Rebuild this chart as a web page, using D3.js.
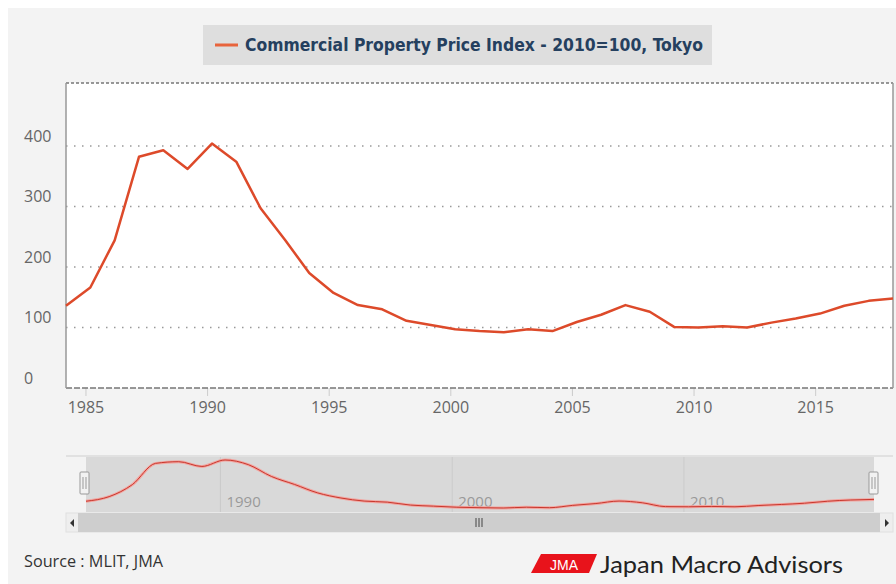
<!DOCTYPE html>
<html>
<head>
<meta charset="utf-8">
<script src="https://cdn.jsdelivr.net/npm/d3@7"></script>
<style>
body { margin: 0; background: #ffffff; }
</style>
</head>
<body>
<script>
// annual values, Commercial Property Price Index (2010=100), Tokyo
var years = [1984, 1985, 1986, 1987, 1988, 1989, 1990, 1991, 1992, 1993, 1994, 1995, 1996,
  1997, 1998, 1999, 2000, 2001, 2002, 2003, 2004, 2005, 2006, 2007, 2008, 2009, 2010,
  2011, 2012, 2013, 2014, 2015, 2016, 2017, 2018];
var values = [136, 166, 244, 382, 393, 362, 404, 374, 297, 245, 190, 157, 137,
  130, 111, 104, 97, 94, 92, 97, 94, 109, 121, 137, 126, 101, 100,
  102, 100, 108, 115, 123, 136, 144, 148];
var yTicks = [0, 100, 200, 300, 400];
var xTicks = [1985, 1990, 1995, 2000, 2005, 2010, 2015];
var navTicks = [1990, 2000, 2010];
var seriesName = "Commercial Property Price Index - 2010=100, Tokyo";

var width = 896, height = 584;
var plotLeft = 66, plotRight = 893, plotTop = 83, plotBottom = 388;
var lineColor = "#dd4a2a";

var data = years.map((yr, i) => ({ t: yr + 0.2, v: values[i] }));

var svg = d3.select("body").append("svg")
  .attr("width", width)
  .attr("height", height)
  .style("font-family", "'Open Sans', sans-serif");

// panel background
svg.append("rect").attr("x", 8).attr("y", 8).attr("width", width - 8).attr("height", height - 8)
  .attr("fill", "#f3f3f3");

// legend
svg.append("rect").attr("x", 203).attr("y", 25).attr("width", 509).attr("height", 40)
  .attr("fill", "#dedede");
svg.append("line").attr("x1", 215).attr("x2", 238).attr("y1", 45).attr("y2", 45)
  .attr("stroke", "#e8643c").attr("stroke-width", 3);
svg.append("text").attr("x", 245).attr("y", 51)
  .attr("textLength", 458).attr("lengthAdjust", "spacingAndGlyphs")
  .style("font-family", "'Liberation Sans Narrow', 'DejaVu Sans Condensed', sans-serif")
  .style("font-weight", "bold").style("font-size", "18px")
  .attr("fill", "#25405f")
  .text(seriesName);

// scales
var x = d3.scaleLinear()
  .domain([data[0].t, data[data.length - 1].t])
  .range([plotLeft, plotRight]);
var y = d3.scaleLinear()
  .domain([0, 504])
  .range([plotBottom, plotTop]);

// plot area
svg.append("rect").attr("x", plotLeft).attr("y", plotTop)
  .attr("width", plotRight - plotLeft).attr("height", plotBottom - plotTop)
  .attr("fill", "#ffffff");

// grid
svg.append("g").selectAll("line")
  .data(yTicks.filter(d => d > 0))
  .enter().append("line")
  .attr("x1", plotLeft).attr("x2", plotRight)
  .attr("y1", d => y(d)).attr("y2", d => y(d))
  .attr("stroke", "#999").attr("stroke-width", 1.5)
  .attr("stroke-dasharray", "1.5,6.5");

// y labels
svg.append("g").selectAll("text")
  .data(yTicks)
  .enter().append("text")
  .attr("x", 24)
  .attr("y", d => y(d) - 4)
  .attr("fill", "#666").style("font-size", "16px")
  .text(d => d);

// x axis
var xAxis = d3.axisBottom(x)
  .tickValues(xTicks)
  .tickFormat(d3.format("d"))
  .tickSize(8)
  .tickPadding(6);
var gx = svg.append("g")
  .attr("transform", "translate(0," + plotBottom + ")")
  .call(xAxis);
gx.select(".domain").remove();
gx.selectAll(".tick line").attr("stroke", "#ccc");
gx.selectAll(".tick text").attr("fill", "#666")
  .style("font-family", "'Open Sans', sans-serif").style("font-size", "16px");

// borders
svg.append("line").attr("x1", plotLeft).attr("x2", plotRight).attr("y1", plotTop).attr("y2", plotTop)
  .attr("stroke", "#777").attr("stroke-width", 1.5).attr("stroke-dasharray", "3,2");
svg.append("line").attr("x1", plotLeft).attr("x2", plotRight).attr("y1", plotBottom).attr("y2", plotBottom)
  .attr("stroke", "#777").attr("stroke-width", 1.5).attr("stroke-dasharray", "6,2");
svg.append("line").attr("x1", plotLeft).attr("x2", plotLeft).attr("y1", plotTop).attr("y2", plotBottom)
  .attr("stroke", "#999").attr("stroke-width", 1.5);
svg.append("line").attr("x1", plotRight).attr("x2", plotRight).attr("y1", plotTop).attr("y2", plotBottom)
  .attr("stroke", "#999").attr("stroke-width", 1.5);

// main line
var line = d3.line().x(d => x(d.t)).y(d => y(d.v));
svg.append("path").datum(data)
  .attr("d", line)
  .attr("fill", "none")
  .attr("stroke", lineColor)
  .attr("stroke-width", 2.5)
  .attr("stroke-linejoin", "round");

// navigator
var navTop = 457, navBottom = 512, navLeft = 86, navRight = 874;
var nx = d3.scaleLinear().domain(x.domain()).range([navLeft, navRight]);
var ny = d3.scaleLinear().domain(d3.extent(values)).range([508, 460]);

svg.append("line").attr("x1", plotLeft).attr("x2", plotRight).attr("y1", navTop - 1).attr("y2", navTop - 1)
  .attr("stroke", "#cfcfcf");
svg.append("rect").attr("x", navLeft).attr("y", navTop).attr("width", navRight - navLeft)
  .attr("height", navBottom - navTop).attr("fill", "#d9d9d9");

svg.append("g").selectAll("line")
  .data(navTicks)
  .enter().append("line")
  .attr("x1", d => nx(d)).attr("x2", d => nx(d))
  .attr("y1", navTop).attr("y2", navBottom)
  .attr("stroke", "#cbcbcb");
svg.append("g").selectAll("text")
  .data(navTicks)
  .enter().append("text")
  .attr("x", d => nx(d) + 6)
  .attr("y", 507)
  .attr("fill", "#999").style("font-size", "15px")
  .text(d => d);

var navLine = d3.line().x(d => nx(d.t)).y(d => ny(d.v)).curve(d3.curveMonotoneX);
svg.append("path").datum(data).attr("d", navLine)
  .attr("fill", "none").attr("stroke", "#f2a5a0").attr("stroke-width", 3);
svg.append("path").datum(data).attr("d", navLine)
  .attr("fill", "none").attr("stroke", "#c8372d").attr("stroke-width", 1);

// handles
[navLeft - 1, navRight].forEach(function(hx) {
  svg.append("rect").attr("x", hx - 5).attr("y", 472).attr("width", 9).attr("height", 22)
    .attr("rx", 1).attr("fill", "#f2f2f2").attr("stroke", "#999");
  svg.append("line").attr("x1", hx - 2).attr("x2", hx - 2).attr("y1", 477).attr("y2", 489).attr("stroke", "#999");
  svg.append("line").attr("x1", hx + 1).attr("x2", hx + 1).attr("y1", 477).attr("y2", 489).attr("stroke", "#999");
});

// scrollbar
svg.append("rect").attr("x", plotLeft).attr("y", 513).attr("width", plotRight - plotLeft).attr("height", 19)
  .attr("fill", "#eeeeee").attr("stroke", "#e0e0e0");
svg.append("rect").attr("x", 78).attr("y", 513).attr("width", 802).attr("height", 19)
  .attr("fill", "#cecece");
svg.append("path").attr("d", "M74,519 L74,527 L70,523 Z").attr("fill", "#333");
svg.append("path").attr("d", "M885,519 L885,527 L889,523 Z").attr("fill", "#333");
[476, 479, 482].forEach(function(gxp) {
  svg.append("line").attr("x1", gxp).attr("x2", gxp).attr("y1", 518).attr("y2", 527)
    .attr("stroke", "#444").attr("stroke-width", 1);
});

// footer
svg.append("text").attr("x", 24).attr("y", 567)
  .attr("fill", "#333").style("font-size", "16px")
  .attr("textLength", 139).attr("lengthAdjust", "spacingAndGlyphs")
  .text("Source : MLIT, JMA");

svg.append("path").attr("d", "M541,554 L597,554 L589,573 L531,573 Z").attr("fill", "#e8131b");
svg.append("text").attr("x", 564).attr("y", 570).attr("text-anchor", "middle")
  .attr("fill", "#fff").style("font-size", "14px").style("font-family", "'Liberation Sans', sans-serif")
  .text("JMA");
svg.append("text").attr("x", 600).attr("y", 573)
  .attr("fill", "#222").style("font-size", "23px").style("font-family", "Lato, sans-serif")
  .attr("textLength", 243).attr("lengthAdjust", "spacingAndGlyphs")
  .text("Japan Macro Advisors");
</script>
</body>
</html>
